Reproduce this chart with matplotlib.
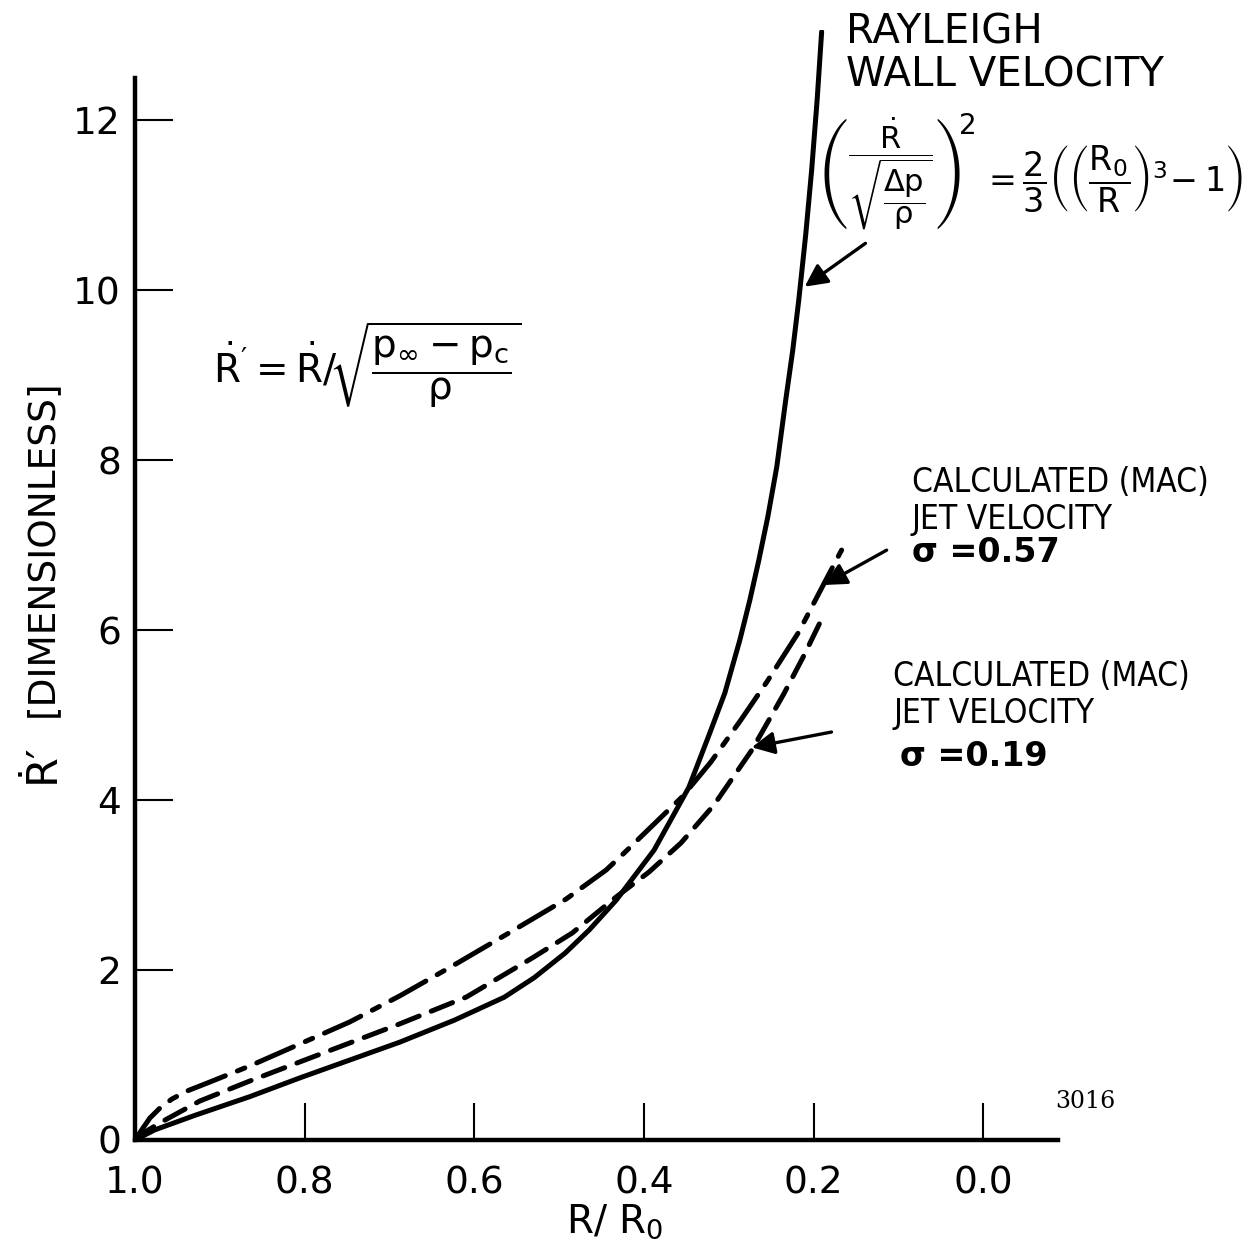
"""
Rayleigh wall velocity vs calculated (MAC) jet velocity — recreated chart.
Writes out.png in the working directory.
"""

import matplotlib
matplotlib.use("Agg")
import matplotlib.pyplot as plt

W_PX, H_PX = 1253, 1254

# ---------------------------------------------------------------------------
# Data (R/R0 on x, R-dot' on y)
# ---------------------------------------------------------------------------
rayleigh_x = [1.0, 0.9765, 0.9294, 0.8647, 0.8059, 0.7471, 0.6882, 0.6235,
              0.5647, 0.5294, 0.4929, 0.4647, 0.4329, 0.3882, 0.3471, 0.3224,
              0.3047, 0.2871, 0.2753, 0.2647, 0.2541, 0.2435, 0.2329, 0.2247,
              0.2176, 0.2094, 0.2024, 0.1959, 0.1906]
rayleigh_y = [0.0, 0.12, 0.29, 0.51, 0.73, 0.94, 1.15, 1.41,
              1.68, 1.91, 2.20, 2.47, 2.82, 3.41, 4.15, 4.79,
              5.26, 5.88, 6.35, 6.82, 7.33, 7.92, 8.71, 9.29,
              9.88, 10.65, 11.41, 12.24, 13.04]

# sigma = 0.57 (dash-dot)
jet057_x = [1.0, 0.9906, 0.9824, 0.9706, 0.9565, 0.9388, 0.9118, 0.8647,
            0.8059, 0.7471, 0.6882, 0.6259, 0.5553, 0.4918, 0.4447, 0.4235,
            0.3553, 0.3212, 0.2859, 0.2553, 0.2176, 0.1906, 0.1671]
jet057_y = [0.0, 0.141, 0.259, 0.376, 0.482, 0.576, 0.682, 0.871,
            1.129, 1.388, 1.694, 2.047, 2.459, 2.835, 3.176, 3.376,
            4.035, 4.447, 4.941, 5.388, 5.976, 6.494, 6.941]

# sigma = 0.19 (dashed)
jet019_x = [1.0, 0.9882, 0.9765, 0.9624, 0.9235, 0.8647, 0.8059, 0.7471,
            0.6882, 0.6094, 0.5318, 0.4847, 0.4329, 0.3941, 0.3565, 0.3176,
            0.2729, 0.2353, 0.2118, 0.1871]
jet019_y = [0.0, 0.094, 0.165, 0.247, 0.459, 0.694, 0.918, 1.141,
            1.365, 1.682, 2.141, 2.435, 2.859, 3.153, 3.494, 3.941,
            4.588, 5.247, 5.694, 6.2]

x_ticks = [1.0, 0.8, 0.6, 0.4, 0.2, 0.0]
x_tick_labels = ["1.0", "0.8", "0.6", "0.4", "0.2", "0.0"]
y_ticks = [0, 2, 4, 6, 8, 10, 12]

plt.rcParams["mathtext.fontset"] = "dejavusans"
plt.rcParams["mathtext.default"] = "regular"
plt.rcParams["font.family"] = ["DejaVu Sans"]


def fp(x, y):
    """Figure fraction from picture pixels (top-left origin)."""
    return x / W_PX, 1 - y / H_PX


fig = plt.figure(figsize=(W_PX / 100, H_PX / 100), dpi=100)
fig.patch.set_facecolor("white")
ax = fig.add_axes([135 / W_PX, 114 / H_PX, (1058 - 135) / W_PX, (1140 - 30) / H_PX])
ax.set_xlim(1.0, -0.088)
ax.set_ylim(0, 13.06)

for side in ("top", "right"):
    ax.spines[side].set_visible(False)
for side in ("left", "bottom"):
    ax.spines[side].set_linewidth(3.2)
ax.spines["left"].set_bounds(0, 12.5)

LW = 3.6
ax.plot(rayleigh_x, rayleigh_y, color="black", lw=LW,
        solid_capstyle="round", solid_joinstyle="round")
l1, = ax.plot(jet057_x, jet057_y, color="black", lw=LW, dash_capstyle="round")
l1.set_dashes((8, 2.6, 1.6, 2.6))
l2, = ax.plot(jet019_x, jet019_y, color="black", lw=LW, dash_capstyle="round")
l2.set_dashes((4.6, 2.6))

ax.set_xticks(x_ticks)
ax.set_xticklabels(x_tick_labels)
ax.set_yticks(y_ticks)
ax.tick_params(axis="both", direction="in", length=27, width=1.5,
               labelsize=27, colors="black")
ax.tick_params(axis="x", pad=18)
ax.tick_params(axis="y", pad=10)

# axis labels
fig.text(*fp(615, 1222), r"R/ R$_\mathregular{0}$", fontsize=28,
         ha="center", va="center")
fig.text(*fp(42, 763), "Ṙ′", fontsize=31, rotation=90,
         ha="center", va="center")
fig.text(*fp(42, 548), "[DIMENSIONLESS]", fontsize=27, rotation=90,
         ha="center", va="center")

# definition of R-dot'
fig.text(*fp(367, 365),
         r"$\dot{R}' = \dot{R}/\!\sqrt{\dfrac{p_\infty - p_c}{\rho}}$",
         fontsize=28, ha="center", va="center")

# Rayleigh label and formula
fig.text(*fp(846, 12), "RAYLEIGH\nWALL VELOCITY", fontsize=29,
         ha="left", va="top", linespacing=1.1)
fig.text(*fp(890, 174),
         r"$\left(\dfrac{\dot{R}}{\sqrt{\dfrac{\Delta p}{\rho}}}\right)$",
         fontsize=22, ha="center", va="center")
fig.text(*fp(968, 126), "2", fontsize=20, ha="center", va="center")
fig.text(*fp(982, 178),
         r"$=\dfrac{2}{3}\left(\left(\dfrac{R_0}{R}\right)^3\!-1\right)$",
         fontsize=24, ha="left", va="center")

# jet velocity labels
fig.text(*fp(912, 466), "CALCULATED (MAC)\nJET VELOCITY", fontsize=24,
         fontstretch="condensed", ha="left", va="top", linespacing=1.15)
fig.text(*fp(912, 553), "σ =0.57", fontsize=24, fontweight="bold",
         ha="left", va="center")
fig.text(*fp(893, 660), "CALCULATED (MAC)\nJET VELOCITY", fontsize=24,
         fontstretch="condensed", ha="left", va="top", linespacing=1.15)
fig.text(*fp(900, 757), "σ =0.19", fontsize=24, fontweight="bold",
         ha="left", va="center")

fig.text(*fp(1055, 1102), "3016", fontsize=17, family="DejaVu Serif",
         ha="left", va="center")

# arrows pointing at the curves
arrow_kw = dict(arrowstyle="-|>", lw=2.4, color="black", mutation_scale=34,
                shrinkA=0, shrinkB=0)
ax.annotate("", xy=(0.2106, 10.04), xytext=(0.139, 10.55),
            arrowprops=arrow_kw, annotation_clip=False)
ax.annotate("", xy=(0.188, 6.53), xytext=(0.114, 6.94),
            arrowprops=arrow_kw, annotation_clip=False)
ax.annotate("", xy=(0.273, 4.62), xytext=(0.179, 4.80),
            arrowprops=arrow_kw, annotation_clip=False)

fig.savefig("out.png", dpi=100, facecolor="white")
